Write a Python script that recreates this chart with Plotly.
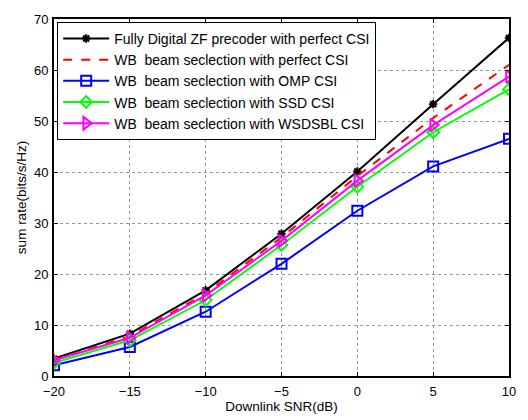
import plotly.graph_objects as go

snr = [-20, -15, -10, -5, 0, 5, 10]
fd_zf = [3.4, 8.3, 16.8, 27.9, 40.1, 53.3, 66.3]
wb_perfect = [3.2, 7.8, 16.2, 27.2, 39.2, 50.6, 61.0]
wb_omp = [2.1, 5.7, 12.6, 22.0, 32.4, 41.1, 46.5]
wb_ssd = [2.6, 7.0, 14.9, 25.7, 37.1, 47.8, 56.2]
wb_wsdsbl = [3.1, 7.5, 15.8, 26.5, 38.3, 49.2, 58.7]

names = [
    "Fully Digital ZF precoder with perfect CSI",
    "WB  beam seclection with perfect CSI",
    "WB  beam seclection with OMP CSI",
    "WB  beam seclection with SSD CSI",
    "WB  beam seclection with WSDSBL CSI",
]

FONT = "Liberation Sans, Arial, sans-serif"

fig = go.Figure()
fig.add_trace(go.Scatter(x=snr, y=fd_zf, name=names[0], mode="lines+markers",
                         line=dict(color="black", width=2),
                         marker=dict(symbol="asterisk-open", size=7, color="black",
                                     line=dict(color="black", width=2))))
fig.add_trace(go.Scatter(x=snr, y=wb_perfect, name=names[1], mode="lines",
                         line=dict(color="#ff0000", width=2, dash="dash")))
fig.add_trace(go.Scatter(x=snr, y=wb_omp, name=names[2], mode="lines+markers",
                         line=dict(color="#0000ff", width=2),
                         marker=dict(symbol="square-open", size=10, color="#0000ff",
                                     line=dict(color="#0000ff", width=2))))
fig.add_trace(go.Scatter(x=snr, y=wb_ssd, name=names[3], mode="lines+markers",
                         line=dict(color="#00ff00", width=2),
                         marker=dict(symbol="diamond-open", size=9, color="#00ff00",
                                     line=dict(color="#00ff00", width=2))))
fig.add_trace(go.Scatter(x=snr, y=wb_wsdsbl, name=names[4], mode="lines+markers",
                         line=dict(color="#ff00ff", width=2),
                         marker=dict(symbol="triangle-right-open", size=11, color="#ff00ff",
                                     line=dict(color="#ff00ff", width=2))))

axis_common = dict(
    showline=True, linecolor="black", linewidth=2, mirror="ticks",
    ticks="inside", ticklen=4, tickcolor="black",
    showgrid=True, gridcolor="#999999", griddash="dot", gridwidth=1,
    zeroline=False, tickfont=dict(family=FONT, size=13, color="black"),
)

fig.update_layout(
    width=528, height=420,
    margin=dict(l=54, r=12, t=12, b=39),
    paper_bgcolor="white", plot_bgcolor="white",
    font=dict(family=FONT, size=13, color="black"),
    xaxis=dict(range=[-20, 10], tickvals=snr, ticklabelstandoff=2,
               title=dict(text="Downlink SNR(dB)", standoff=0,
                          font=dict(family=FONT, size=13.5)), **axis_common),
    yaxis=dict(range=[0, 70], dtick=10, ticklabelstandoff=1,
               title=dict(text="sum rate(bits/s/Hz)", standoff=4,
                          font=dict(family=FONT, size=13.5)), **axis_common),
    legend=dict(x=0.007, y=0.992, xanchor="left", yanchor="top",
                bgcolor="white", bordercolor="black", borderwidth=1,
                font=dict(family=FONT, size=14, color="black"),
                tracegroupgap=0, itemwidth=46),
    showlegend=True,
)

fig.write_html("out.html")
